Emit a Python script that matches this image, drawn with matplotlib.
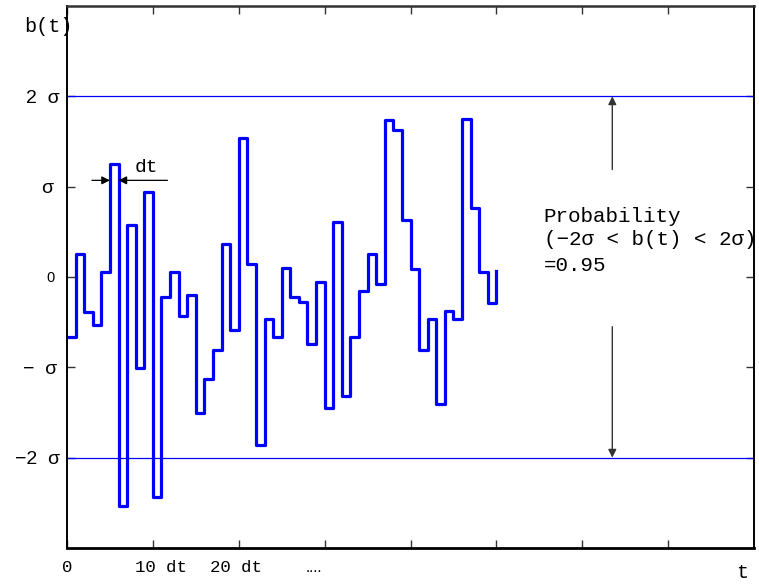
import numpy as np
import matplotlib
matplotlib.use("Agg")
import matplotlib.pyplot as plt
from matplotlib.transforms import ScaledTranslation

# b(t) sampled every dt, in units of sigma (last value is only the closing rise)
b_vals = [-0.66, 0.25, -0.39, -0.53, 0.05, 1.25, -2.53, 0.58, -1.01, 0.94,
          -2.43, -0.22, 0.05, -0.43, -0.20, -1.51, -1.13, -0.81, 0.37, -0.59,
          1.54, 0.14, -1.86, -0.46, -0.66, 0.10, -0.22, -0.28, -0.74, -0.06,
          -1.45, 0.61, -1.32, -0.66, -0.15, 0.25, -0.08, 1.74, 1.63, 0.63,
          0.09, -0.81, -0.46, -1.41, -0.38, -0.47, 1.75, 0.76, 0.06, -0.29,
          0.07]
t_steps = np.arange(len(b_vals))

y_ticks = [-2, -1, 0, 1, 2]
y_ticklabels = ["\u22122  \u03c3", "\u2212  \u03c3", "0", "\u03c3", "2  \u03c3"]
x_ticks = [0, 10, 20, 30, 40, 50, 60, 70]
x_ticklabels = ["0", "10 dt", "20 dt", "....", "", "", "", ""]
band = 2  # +/- 2 sigma

mono = "Liberation Mono"
sans = "Liberation Sans"

fig = plt.figure(figsize=(7.59, 5.84), dpi=100)
ax = fig.add_axes([67/759, 36/584, 687/759, 542/584])

ax.step(t_steps, b_vals, where="post", color="#0000ff", lw=2.3)
ax.axhline(band, color="#0000ff", lw=0.9)
ax.axhline(-band, color="#0000ff", lw=0.9)

ax.set_xlim(0, 80)
ax.set_ylim(-3, 3)

ax.set_xticks(x_ticks)
ax.set_xticklabels(x_ticklabels, fontfamily=mono, fontsize=12.5)
ax.set_yticks(y_ticks)
ax.set_yticklabels(y_ticklabels, fontfamily=sans, fontsize=14)
ax.tick_params(direction="in", length=6, width=1, top=True, right=True, colors="#333333",
               labelcolor="black")
ax.tick_params(axis="x", pad=9)
ax.tick_params(axis="y", pad=5)

# per-label tweaks
y_offsets = [0, -2, -4, -5, 0]
for lab, dx in zip(ax.get_yticklabels(), y_offsets):
    if lab.get_text() == "0":
        lab.set_fontsize(10.5)
    lab.set_transform(lab.get_transform() + ScaledTranslation(dx/72, 0, fig.dpi_scale_trans))

x_offsets = [0, 6, -2, -8, 0, 0, 0, 0]
for lab, dx in zip(ax.get_xticklabels(), x_offsets):
    if lab.get_text() == "....":
        lab.set_fontfamily(sans)
        lab.set_fontsize(11)
    lab.set_transform(lab.get_transform() + ScaledTranslation(dx/72, 0, fig.dpi_scale_trans))

for side, lw, col in [("left", 1.4, "black"), ("bottom", 2.0, "black"),
                      ("top", 1.8, "#333333"), ("right", 1.4, "black")]:
    ax.spines[side].set_linewidth(lw)
    ax.spines[side].set_color(col)

# dt marker
arr = dict(arrowstyle="-|>", color="black", lw=0.9, mutation_scale=12, shrinkA=0, shrinkB=0)
ax.annotate("", xy=(5, 1.07), xytext=(2.9, 1.07), arrowprops=arr)
ax.annotate("", xy=(6, 1.07), xytext=(11.7, 1.07), arrowprops=arr)
ax.text(9.3, 1.21, "dt", fontfamily=mono, fontsize=14, ha="center", va="center")

# probability band arrows
arr2 = dict(arrowstyle="-|>", color="#333333", lw=1.0, mutation_scale=12, shrinkA=0, shrinkB=0)
ax.annotate("", xy=(63.5, band), xytext=(63.5, 1.19), arrowprops=arr2)
ax.annotate("", xy=(63.5, -band), xytext=(63.5, -0.55), arrowprops=arr2)

ax.text(55.5, 0.67, "Probability", fontfamily=mono, fontsize=15, va="center")
ax.text(55.5, 0.415, "(\u22122\u03c3 < b(t) < 2\u03c3)", fontfamily=mono, fontsize=15,
        va="center", clip_on=False)
ax.text(55.5, 0.13, "=0.95", fontfamily=mono, fontsize=15, va="center")

fig.text(24/759, 1 - 26/584, "b(t)", fontfamily=mono, fontsize=14.5, va="center")
fig.text(742/759, 1 - 572/584, "t", fontfamily=mono, fontsize=14.5, va="center", ha="center")

fig.savefig("out.png", dpi=100)
